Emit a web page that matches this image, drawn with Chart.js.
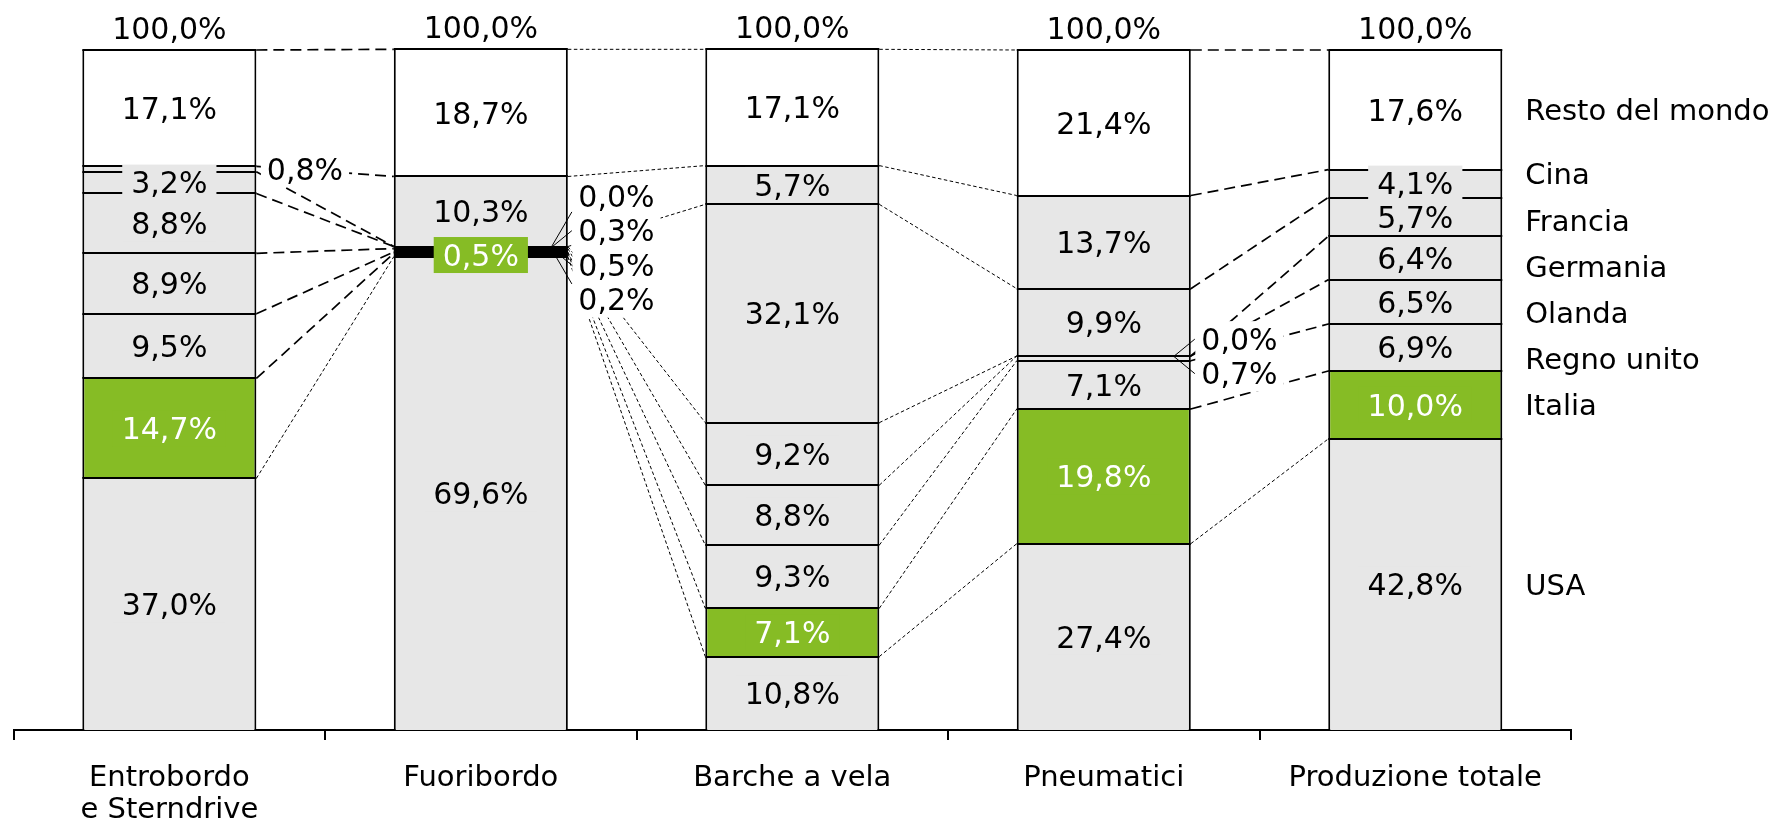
<!DOCTYPE html>
<html>
<head>
<meta charset="utf-8">
<script src="https://cdn.jsdelivr.net/npm/chart.js@4.4.1/dist/chart.umd.min.js"></script>
<style>
  html, body { margin: 0; padding: 0; background: #ffffff; }
  #wrap { width: 1775px; height: 822px; position: relative; }
</style>
</head>
<body>
<div id="wrap"><canvas id="c" width="1775" height="822"></canvas></div>
<script>
// ---------------- DATA ----------------
const categories = [["Entrobordo", "e Sterndrive"], "Fuoribordo", "Barche a vela", "Pneumatici", "Produzione totale"];
const seriesNames = ["USA", "Italia", "Regno unito", "Olanda", "Germania", "Francia", "Cina", "Resto del mondo"];
const usa        = [37.0, 69.6, 10.8, 27.4, 42.8];
const italia     = [14.7,  0.5,  7.1, 19.8, 10.0];
const regnoUnito = [ 9.5,  0.2,  9.3,  7.1,  6.9];
const olanda     = [ 8.9,  0.5,  8.8,  0.7,  6.5];
const germania   = [ 8.8,  0.3,  9.2,  0.0,  6.4];
const francia    = [ 3.2,  0.0, 32.1,  9.9,  5.7];
const cina       = [ 0.8, 10.3,  5.7, 13.7,  4.1];
const resto      = [17.1, 18.7, 17.1, 21.4, 17.6];
const totals     = [100.0, 100.0, 100.0, 100.0, 100.0];
const values = [usa, italia, regnoUnito, olanda, germania, francia, cina, resto];

// values labelled outside their bar (category index, series indices listed top to bottom)
const outsideGroups = [
  { cat: 0, series: [6] },
  { cat: 1, series: [5, 4, 3, 2] },
  { cat: 3, series: [4, 3] }
];

// ---------------- STYLE ----------------
const GRAY = '#e7e7e7', GREEN = '#86bc25', WHITE = '#ffffff';
const colors = [GRAY, GREEN, GRAY, GRAY, GRAY, GRAY, GRAY, WHITE];
const FONT_FAMILY = '"DejaVu Sans", Verdana, sans-serif';
const VALUE_FONT = '30px ' + FONT_FAMILY;
const NAME_FONT = '29px ' + FONT_FAMILY;
const TY = 3; // vertical nudge so glyphs sit centred like the reference
const heavyPairs = [0, 3];
const fmt = v => v.toFixed(1).replace('.', ',') + '%';

const isOutside = (i, k) => outsideGroups.some(g => g.cat === i && g.series.includes(k));

const overlay = {
  id: 'overlay',
  afterDatasetsDraw(chart) {
    const ctx = chart.ctx;
    const nS = seriesNames.length, nC = categories.length;
    const P = (k, i) => chart.getDatasetMeta(k).data[i].getProps(['x', 'y', 'base', 'width'], true);
    ctx.save();

    // segment boundary lines (crisp) and very thin segments drawn solid
    for (let i = 0; i < nC; i++) {
      for (let k = 0; k < nS; k++) {
        const p = P(k, i);
        const left = p.x - p.width / 2;
        const h = p.base - p.y;
        ctx.fillStyle = '#000';
        if (h > 0 && h < 4) ctx.fillRect(left, p.y, p.width, h);
        ctx.fillRect(left, Math.round(p.y) - 1, p.width, 2);
      }
    }

    // connectors between neighbouring bars
    for (let i = 0; i < nC - 1; i++) {
      for (let k = 0; k < nS; k++) {
        const a = P(k, i), b = P(k, i + 1);
        const heavy = heavyPairs.includes(i) && k !== 0;
        ctx.beginPath();
        ctx.setLineDash(heavy ? [11, 6] : [3.5, 2.5]);
        ctx.lineWidth = heavy ? 1.7 : 1;
        ctx.strokeStyle = '#000';
        ctx.moveTo(a.x + a.width / 2, a.y);
        ctx.lineTo(b.x - b.width / 2, b.y);
        ctx.stroke();
      }
    }
    ctx.setLineDash([]);

    ctx.font = VALUE_FONT;
    ctx.textBaseline = 'middle';

    // labels inside the bars
    for (let i = 0; i < nC; i++) {
      for (let k = 0; k < nS; k++) {
        if (isOutside(i, k)) continue;
        const p = P(k, i);
        const cy = (p.y + p.base) / 2;
        const t = fmt(values[k][i]);
        const w = ctx.measureText(t).width;
        ctx.fillStyle = colors[k];
        ctx.fillRect(p.x - w / 2 - 9, cy - 18, w + 18, 36);
        ctx.fillStyle = k === 1 ? '#ffffff' : '#000000';
        ctx.textAlign = 'center';
        ctx.fillText(t, p.x, cy + TY);
      }
    }

    // labels outside the bars
    outsideGroups.forEach(g => {
      const i = g.cat, ks = g.series, n = ks.length;
      const pTop = P(ks[0], i), pBot = P(ks[n - 1], i);
      const right = pTop.x + pTop.width / 2;
      const yc = n === 1 ? (pTop.y + pTop.base) / 2 : (pTop.y + pBot.base) / 2 - 2;
      const gap = 34.5;
      const lx = right + 10.5;
      const ys = ks.map((_, j) => yc + (j - (n - 1) / 2) * gap);
      ks.forEach((k, j) => {
        const w = ctx.measureText(fmt(values[k][i])).width;
        ctx.fillStyle = '#ffffff';
        ctx.fillRect(lx - 6, ys[j] - 18, w + 12, 36);
      });
      if (n > 1) {
        ctx.strokeStyle = '#000';
        ctx.lineWidth = 1;
        ks.forEach((k, j) => {
          ctx.beginPath();
          ctx.moveTo(right - 17, yc);
          ctx.lineTo(right + 4, Math.max(yc - 36, Math.min(yc + 36, ys[j])));
          ctx.stroke();
        });
      }
      ctx.fillStyle = '#000';
      ctx.textAlign = 'left';
      ks.forEach((k, j) => ctx.fillText(fmt(values[k][i]), lx, ys[j] + TY));
    });

    // totals above the bars
    ctx.fillStyle = '#000';
    ctx.textAlign = 'center';
    for (let i = 0; i < nC; i++) {
      const p = P(nS - 1, i);
      ctx.fillText(fmt(totals[i]), p.x, p.y - 22 + TY);
    }

    // series names to the right of the last bar
    ctx.font = NAME_FONT;
    const last = nC - 1;
    const p0 = P(0, last);
    const lgx = p0.x + p0.width / 2 + 23;
    const ctr = k => { const p = P(k, last); return (p.y + p.base) / 2; };
    const yIt = ctr(1);
    ctx.textAlign = 'left';
    for (let k = 0; k < nS; k++) {
      let y;
      if (k === 0 || k === 1 || k === nS - 1) y = ctr(k);
      else y = yIt - (k - 1) * 46.2;
      ctx.fillText(seriesNames[k], lgx, y + TY);
    }
    ctx.restore();
  }
};

const datasets = seriesNames.map((name, k) => ({
  label: name,
  data: values[k],
  backgroundColor: colors[k],
  borderColor: '#000',
  borderWidth: { top: 0, bottom: 0, left: 2, right: 2 },
  borderSkipped: false,
  categoryPercentage: 1.0,
  barPercentage: 0.5588,
  inflateAmount: 0,
  clip: false
}));

new Chart(document.getElementById('c'), {
  type: 'bar',
  data: { labels: categories, datasets },
  options: {
    responsive: false,
    animation: false,
    devicePixelRatio: 1,
    layout: { padding: { left: 13.6, right: 204, top: 50, bottom: 0 } },
    plugins: { legend: { display: false }, tooltip: { enabled: false } },
    scales: {
      x: {
        stacked: true,
        afterFit(axis) { axis.height = 92; },
        grid: { offset: true, drawOnChartArea: false, drawTicks: true, tickLength: 10, color: '#000', lineWidth: 2 },
        border: { display: true, color: '#000', width: 2 },
        ticks: { color: '#000', font: { family: FONT_FAMILY, size: 29, lineHeight: 1.12 }, padding: 22, maxRotation: 0, autoSkip: false }
      },
      y: { stacked: true, display: false, min: 0, max: 100 }
    }
  },
  plugins: [overlay]
});
</script>
</body>
</html>
